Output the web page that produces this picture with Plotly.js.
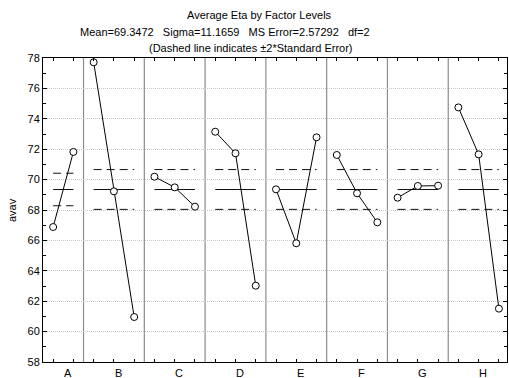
<!DOCTYPE html>
<html>
<head>
<meta charset="utf-8">
<script src="https://cdn.plot.ly/plotly-3.0.1.min.js"></script>
<style>html,body{margin:0;padding:0;background:#fff;}#chart{width:509px;height:378px;}</style>
</head>
<body>
<div id="chart"></div>
<script>
// ---- data ----
const factors = ['A', 'B', 'C', 'D', 'E', 'F', 'G', 'H'];
const levelMeans = [
  [66.88, 71.82],
  [77.72, 69.23, 60.96],
  [70.19, 69.49, 68.22],
  [73.15, 71.73, 63.02],
  [69.36, 65.81, 72.78],
  [71.62, 69.10, 67.19],
  [68.81, 69.58, 69.60],
  [74.75, 71.66, 61.51]
];
const grandMean = 69.3472;
const upperLimit = [70.42, 70.66, 70.66, 70.66, 70.66, 70.66, 70.66, 70.66];
const lowerLimit = [68.28, 68.04, 68.04, 68.04, 68.04, 68.04, 68.04, 68.04];
const yTickVals = [58, 60, 62, 64, 66, 68, 70, 72, 74, 76, 78];
const titleLines = [
  'Average Eta by Factor Levels',
  'Mean=69.3472\u00a0\u00a0\u00a0Sigma=11.1659\u00a0\u00a0\u00a0MS Error=2.57292\u00a0\u00a0\u00a0df=2',
  '(Dashed line indicates \u00b12*Standard Error)'
];
const yLabel = 'avav';

// ---- build ----
const FONT = 'Liberation Sans, Arial, sans-serif';
const traces = [];
const shapes = [];
const annotations = [];
let start = 0;
const allTicks = [];
factors.forEach((f, i) => {
  const vals = levelMeans[i];
  const xs = vals.map((_, j) => start + j);
  xs.forEach(x => allTicks.push(x));
  const x0 = xs[0], x1 = xs[xs.length - 1];
  traces.push({x: [x0, x1], y: [grandMean, grandMean], mode: 'lines', line: {color: '#111', width: 1}, hoverinfo: 'skip', showlegend: false});
  traces.push({x: [x0, x1], y: [upperLimit[i], upperLimit[i]], mode: 'lines', line: {color: '#111', width: 1, dash: '8px,5px'}, hoverinfo: 'skip', showlegend: false});
  traces.push({x: [x0, x1], y: [lowerLimit[i], lowerLimit[i]], mode: 'lines', line: {color: '#111', width: 1, dash: '8px,5px'}, hoverinfo: 'skip', showlegend: false});
  traces.push({x: xs, y: vals, mode: 'lines+markers', line: {color: '#000', width: 1},
    marker: {symbol: 'circle', size: 7, color: '#fff', line: {color: '#000', width: 1}}, showlegend: false, cliponaxis: false});
  if (i > 0) {
    shapes.push({type: 'line', xref: 'x', yref: 'paper', x0: start - 0.5, x1: start - 0.5, y0: 0, y1: 1,
      line: {color: '#8c8c8c', width: 1.2}, layer: 'below'});
  }
  annotations.push({xref: 'x', yref: 'paper', x: (x0 + x1) / 2 + 0.22, y: -0.036, yanchor: 'middle', xanchor: 'center',
    text: f, showarrow: false, font: {family: FONT, size: 11, color: '#000'}});
  start += vals.length;
});

const titleX = [259, 225, 251];
const titleY = [15, 32, 48];
titleLines.forEach((t, k) => {
  annotations.push({xref: 'paper', yref: 'paper', x: (titleX[k] - 43) / 464, y: (362 - titleY[k]) / 304,
    xanchor: 'center', yanchor: 'middle', text: t, showarrow: false, font: {family: FONT, size: 11, color: '#000'}});
});
annotations.push({xref: 'paper', yref: 'paper', x: (12 - 43) / 464, y: 0.5, xanchor: 'center', yanchor: 'middle',
  text: yLabel, textangle: -90, showarrow: false, font: {family: FONT, size: 11, color: '#000'}});

const layout = {
  width: 509, height: 378,
  margin: {l: 43, r: 2, t: 58, b: 16},
  paper_bgcolor: '#fff', plot_bgcolor: '#fff',
  font: {family: FONT, size: 11, color: '#000'},
  showlegend: false,
  xaxis: {
    range: [-0.5, start - 0.6], tickvals: allTicks, showticklabels: false,
    ticks: 'inside', ticklen: 3, tickcolor: '#000', showgrid: false, zeroline: false,
    showline: true, linecolor: '#000', linewidth: 1, mirror: 'ticks'
  },
  yaxis: {
    range: [58, 78], tickvals: yTickVals, ticks: 'inside', ticklen: 4, tickcolor: '#000',
    showgrid: true, gridcolor: '#c8c8c8', griddash: '1px,1px', gridwidth: 1, zeroline: false,
    showline: true, linecolor: '#000', linewidth: 1, mirror: 'ticks',
    tickfont: {family: FONT, size: 11, color: '#000'},
    minor: {dtick: 1, ticks: 'inside', ticklen: 3, tickcolor: '#000', showgrid: false}
  },
  shapes: shapes,
  annotations: annotations
};

Plotly.newPlot('chart', traces, layout, {staticPlot: true, displayModeBar: false});
</script>
</body>
</html>
